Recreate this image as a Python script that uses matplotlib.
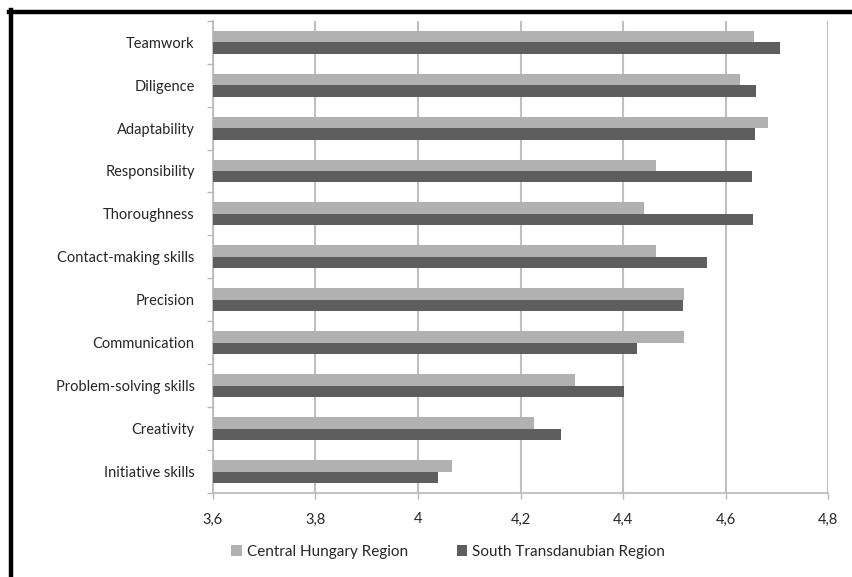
import numpy as np
import matplotlib.pyplot as plt
from matplotlib.lines import Line2D
from matplotlib.ticker import FuncFormatter

# Data (top to bottom)
skills = ['Teamwork', 'Diligence', 'Adaptability', 'Responsibility', 'Thoroughness',
          'Contact-making skills', 'Precision', 'Communication',
          'Problem-solving skills', 'Creativity', 'Initiative skills']
central_hungary = [4.655, 4.627, 4.682, 4.464, 4.441, 4.464, 4.519, 4.519, 4.307, 4.226, 4.067]
south_transdanubian = [4.705, 4.660, 4.658, 4.652, 4.653, 4.564, 4.516, 4.427, 4.402, 4.279, 4.040]
xticks = [3.6, 3.8, 4.0, 4.2, 4.4, 4.6, 4.8]

plt.rcParams['font.family'] = ['Lato', 'DejaVu Sans']

W, H = 852, 577
fig = plt.figure(figsize=(W / 100, H / 100), dpi=100)
# axes placement in pixels: left 212.7, right 828.3, top 20.7, bottom 493
ax = fig.add_axes([212.7 / W, 1 - 493 / H, (828.3 - 212.7) / W, (493 - 20.7) / H])

n = len(skills)
y = np.arange(n)
bh = 0.267
ax.barh(y - bh / 2, central_hungary, height=bh, color='#b1b1b1', label='Central Hungary Region', zorder=3)
ax.barh(y + bh / 2, south_transdanubian, height=bh, color='#5e5e5e', label='South Transdanubian Region', zorder=3)

ax.set_xlim(3.6, 4.8)
ax.set_ylim(n - 0.5, -0.5)
ax.set_xticks(xticks)
ax.xaxis.set_major_formatter(FuncFormatter(lambda v, p: ('%g' % round(v, 1)).replace('.', ',')))
ax.set_yticks(y)
ax.set_yticklabels(skills)
ax.set_yticks(np.arange(n + 1) - 0.5, minor=True)

ax.grid(True, axis='x', color='#c0c0c0', linewidth=1.5, zorder=0)
for s in ['top', 'right']:
    ax.spines[s].set_visible(False)
for s in ['left', 'bottom']:
    ax.spines[s].set_color('#b8b8b8')
    ax.spines[s].set_linewidth(1.2)

ax.tick_params(axis='y', which='major', length=0, pad=13, labelsize=10.5, labelcolor='#262626')
ax.tick_params(axis='y', which='minor', length=4, width=1, color='#b8b8b8')
ax.tick_params(axis='x', length=4, width=1, color='#b8b8b8', pad=10, labelsize=10.5, labelcolor='#262626')

fig.legend(loc='center', bbox_to_anchor=(448 / W, 1 - 552 / H), ncol=2, frameon=False,
           fontsize=11, handlelength=0.7, handleheight=0.7, handletextpad=0.3,
           columnspacing=3.2, labelcolor='#262626')

# black frame on top and left edges
fig.add_artist(Line2D([9 / W, 1], [1 - 12 / H, 1 - 12 / H], color='black', linewidth=3.2,
                      transform=fig.transFigure))
fig.add_artist(Line2D([10.5 / W, 10.5 / W], [0, 1 - 10 / H], color='black', linewidth=3.2,
                      transform=fig.transFigure))

fig.savefig('out.png', dpi=100)
